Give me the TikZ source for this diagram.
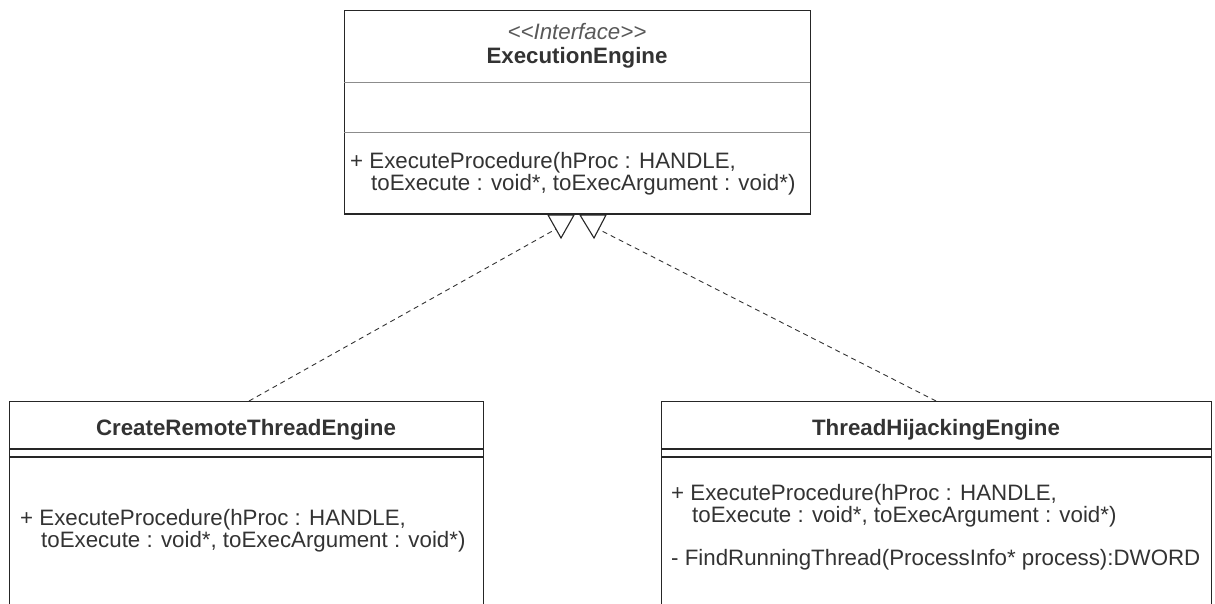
\documentclass[tikz,border=0pt]{standalone}
\usepackage{fontspec}
\setmainfont{Liberation Sans}
\usetikzlibrary{positioning}
\tikzset{>=stealth}
\tikzset{
  classbox/.style={draw=black!85,line width=1.1pt,fill=white,anchor=north west,inner sep=0pt},
  txt/.style={text=black!80,font=\fontsize{22.3}{22}\selectfont,inner sep=0pt},
  members/.style={txt,anchor=west,align=left},
  realize/.style={dashed,dash pattern=on 5pt off 4pt,draw=black!80,line width=.9pt},
  hollow/.style={draw=black!85,line width=1.1pt,fill=white,line join=miter}
}

\begin{document}
\begin{tikzpicture}[x=1pt,y=-1pt]
    \useasboundingbox (0,0) rectangle (1215,603);
    \clip (0,0) rectangle (1215,603);

    \node[classbox,minimum width=466pt,minimum height=204pt] (engine) at (344,10) {};
    \draw[black!45,line width=.8pt] (344,82) -- (810,82);
    \draw[black!45,line width=.8pt] (344,132) -- (810,132);
    \node[txt,font=\fontsize{22.3}{22}\itshape,text=black!65] (stereo) at (577,32) {<{}<Interface>{}>};
    \node[txt,font=\fontsize{22.3}{22}\bfseries] (engineName) at (577,58) {ExecutionEngine};
    \node[members] (engineOps) at (350,174) {+ ExecuteProcedure(hProc : HANDLE,\\
      \hspace{21pt}toExecute : void*, toExecArgument : void*)};

    \node[classbox,minimum width=474pt,minimum height=230pt] (crte) at (9,401) {};
    \draw[black!85,line width=1.1pt] (9,449) -- (483,449);
    \draw[black!85,line width=1.1pt] (9,457) -- (483,457);
    \node[txt,font=\fontsize{22.3}{22}\bfseries] (crteName) at (246,430) {CreateRemoteThreadEngine};
    \node[members] (crteOps) at (20,531) {+ ExecuteProcedure(hProc : HANDLE,\\
      \hspace{21pt}toExecute : void*, toExecArgument : void*)};

    \node[classbox,minimum width=550pt,minimum height=230pt] (hijack) at (661,401) {};
    \draw[black!85,line width=1.1pt] (661,449) -- (1211,449);
    \draw[black!85,line width=1.1pt] (661,457) -- (1211,457);
    \node[txt,font=\fontsize{22.3}{22}\bfseries] (hijackName) at (936,430) {ThreadHijackingEngine};
    \node[members] (hijackOps) at (671,506) {+ ExecuteProcedure(hProc : HANDLE,\\
      \hspace{21pt}toExecute : void*, toExecArgument : void*)};
    \node[members] (hijackFind) at (671,560) {- FindRunningThread(ProcessInfo* process):DWORD};

    \coordinate (crteTop) at (249,401);
    \coordinate (hijackTop) at (936,401);
    \coordinate (tipA) at (556,229);
    \coordinate (tipB) at (598,229);
    \draw[realize] (crteTop) -- (tipA);
    \draw[realize] (hijackTop) -- (tipB);
    \draw[hollow] (548,215) -- (574,215) -- (561,238) -- cycle;
    \draw[hollow] (580,215) -- (606,215) -- (594,238) -- cycle;
    \draw[black!85,line width=1.1pt] (344,214) -- (810,214);
\end{tikzpicture}
\end{document}
